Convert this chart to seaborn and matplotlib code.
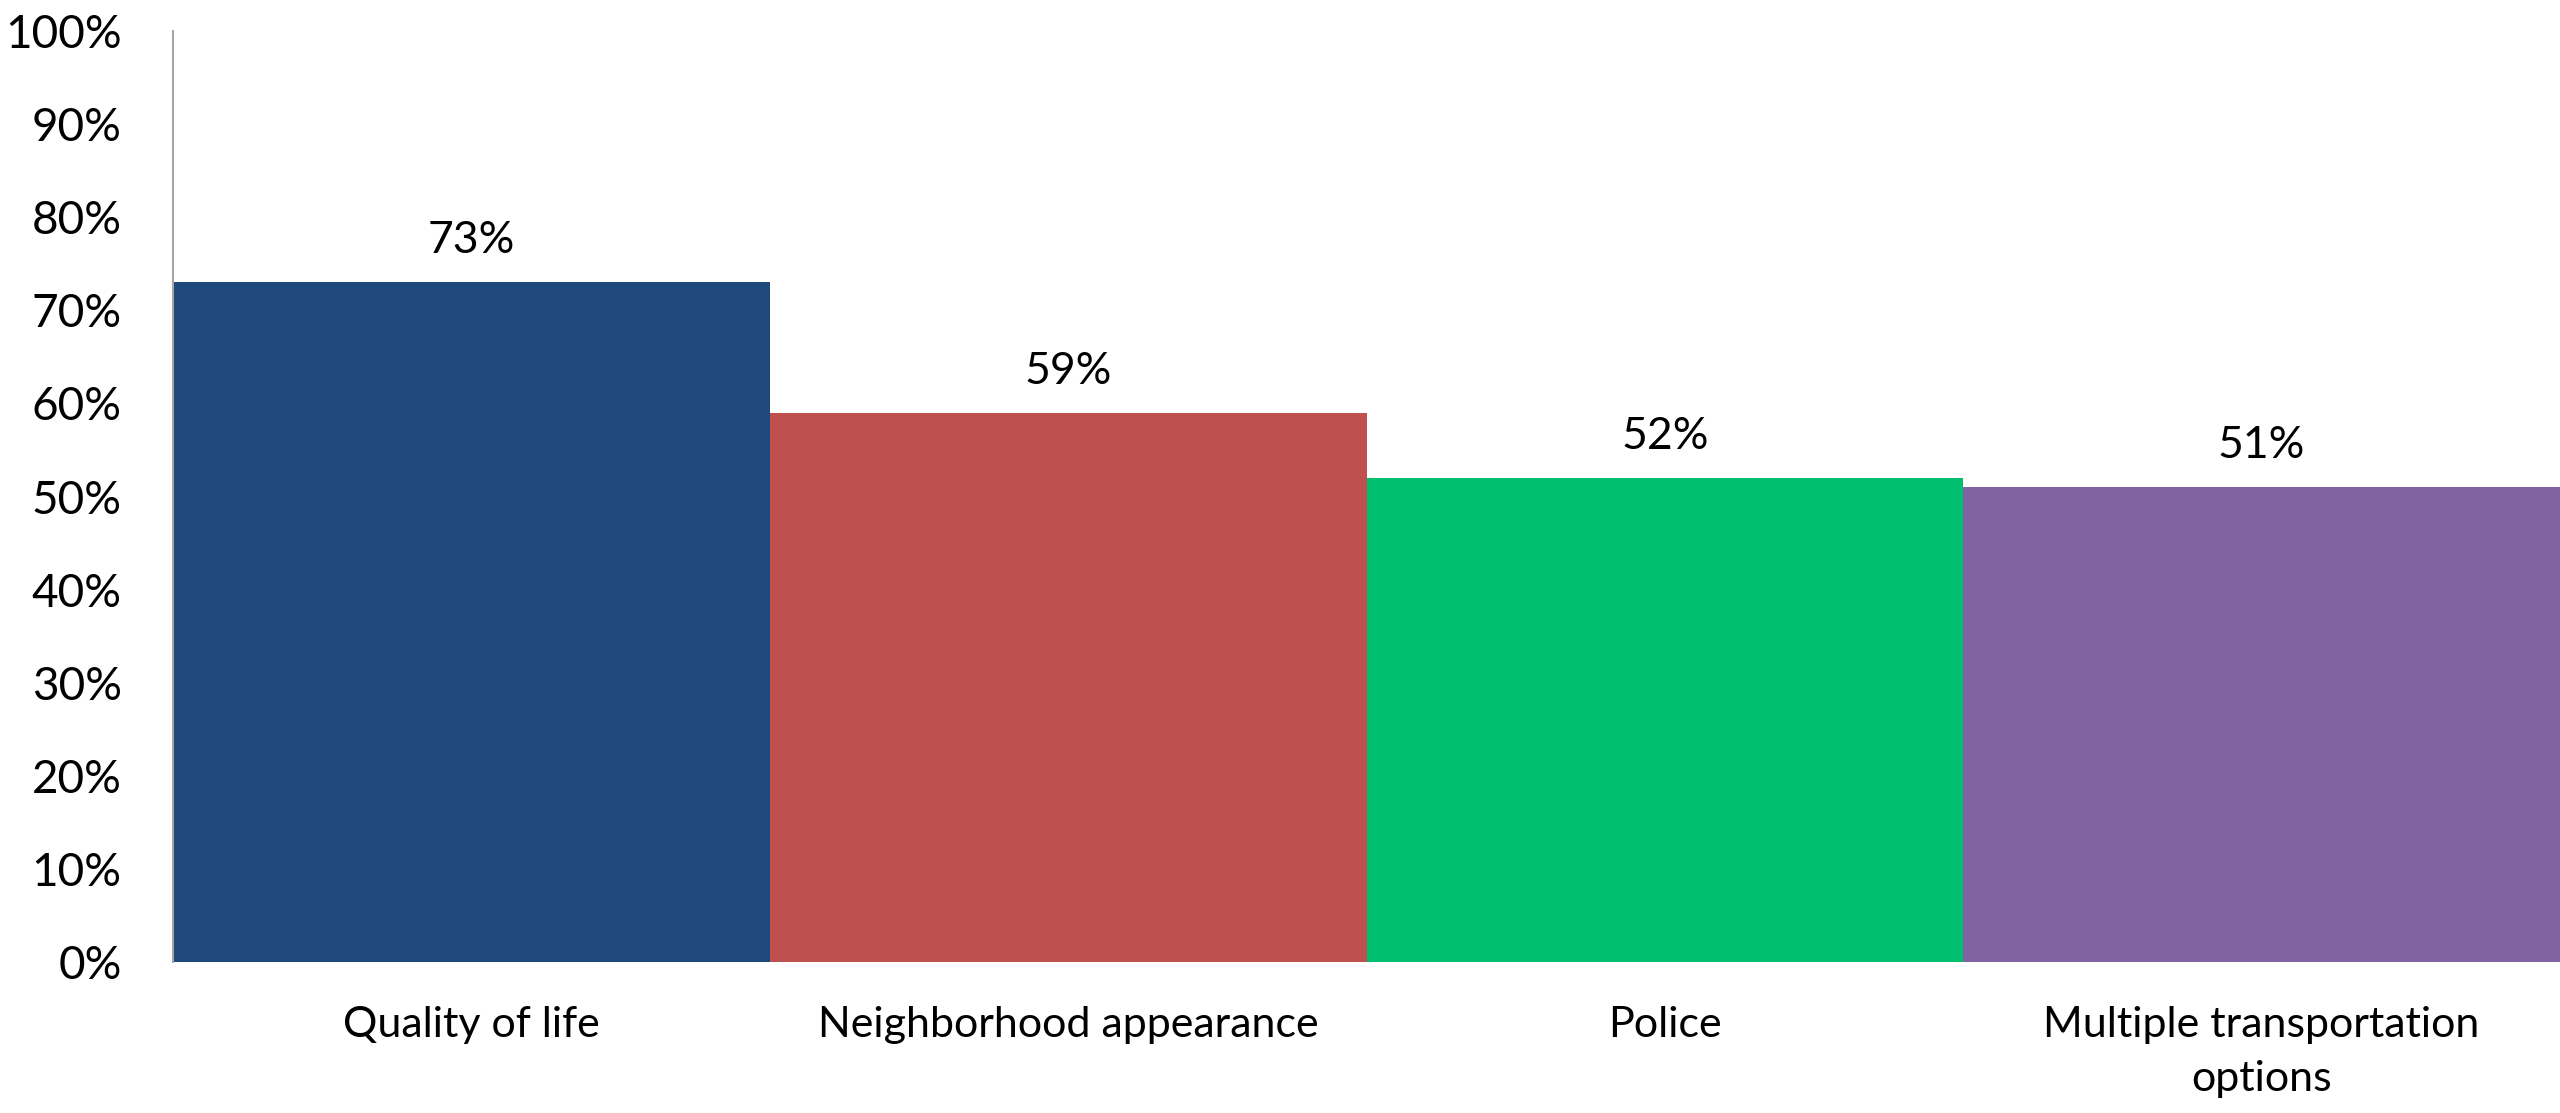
import matplotlib
matplotlib.use("Agg")
import matplotlib.pyplot as plt
import seaborn as sns
import pandas as pd
from matplotlib.ticker import PercentFormatter

categories = ["Quality of life", "Neighborhood appearance", "Police",
              "Multiple transportation\noptions"]
shares = [0.73, 0.59, 0.52, 0.51]
bar_colors = ["#1F497D", "#C0504D", "#00BF6F", "#8064A2"]

sns.set_theme(style="white")
plt.rcParams["font.family"] = ["Lato", "DejaVu Sans"]

df = pd.DataFrame({"category": categories, "share": shares})

fig = plt.figure(figsize=(25.6, 11.13), dpi=100)
ax = fig.add_axes([0.0676, 0.1357, 0.9324, 0.8364])

sns.barplot(data=df, x="category", y="share", hue="category",
            palette=bar_colors, width=1.0, dodge=False, legend=False,
            saturation=1.0, linewidth=0, edgecolor="none", ax=ax)

ax.set_ylim(0, 1.0)
ax.set_xlim(-0.5, len(categories) - 0.5)
ax.set_yticks([i / 10 for i in range(11)])
ax.yaxis.set_major_formatter(PercentFormatter(1.0, decimals=0))
ax.set_xlabel("")
ax.set_ylabel("")

for spine in ("top", "right", "bottom"):
    ax.spines[spine].set_visible(False)
ax.spines["left"].set_color("#A6A6A6")
ax.spines["left"].set_linewidth(1.5)

ax.tick_params(axis="y", length=0, pad=37, labelsize=33, labelcolor="black")
ax.tick_params(axis="x", length=0, pad=32, labelsize=31, labelcolor="black")
for lbl in ax.get_xticklabels():
    lbl.set_linespacing(1.5)

for i, v in enumerate(shares):
    ax.annotate(f"{round(v * 100)}%", xy=(i, v), xytext=(0, 30),
                textcoords="offset points", ha="center", va="center",
                fontsize=32, color="black")

fig.savefig("out.png", dpi=100)
